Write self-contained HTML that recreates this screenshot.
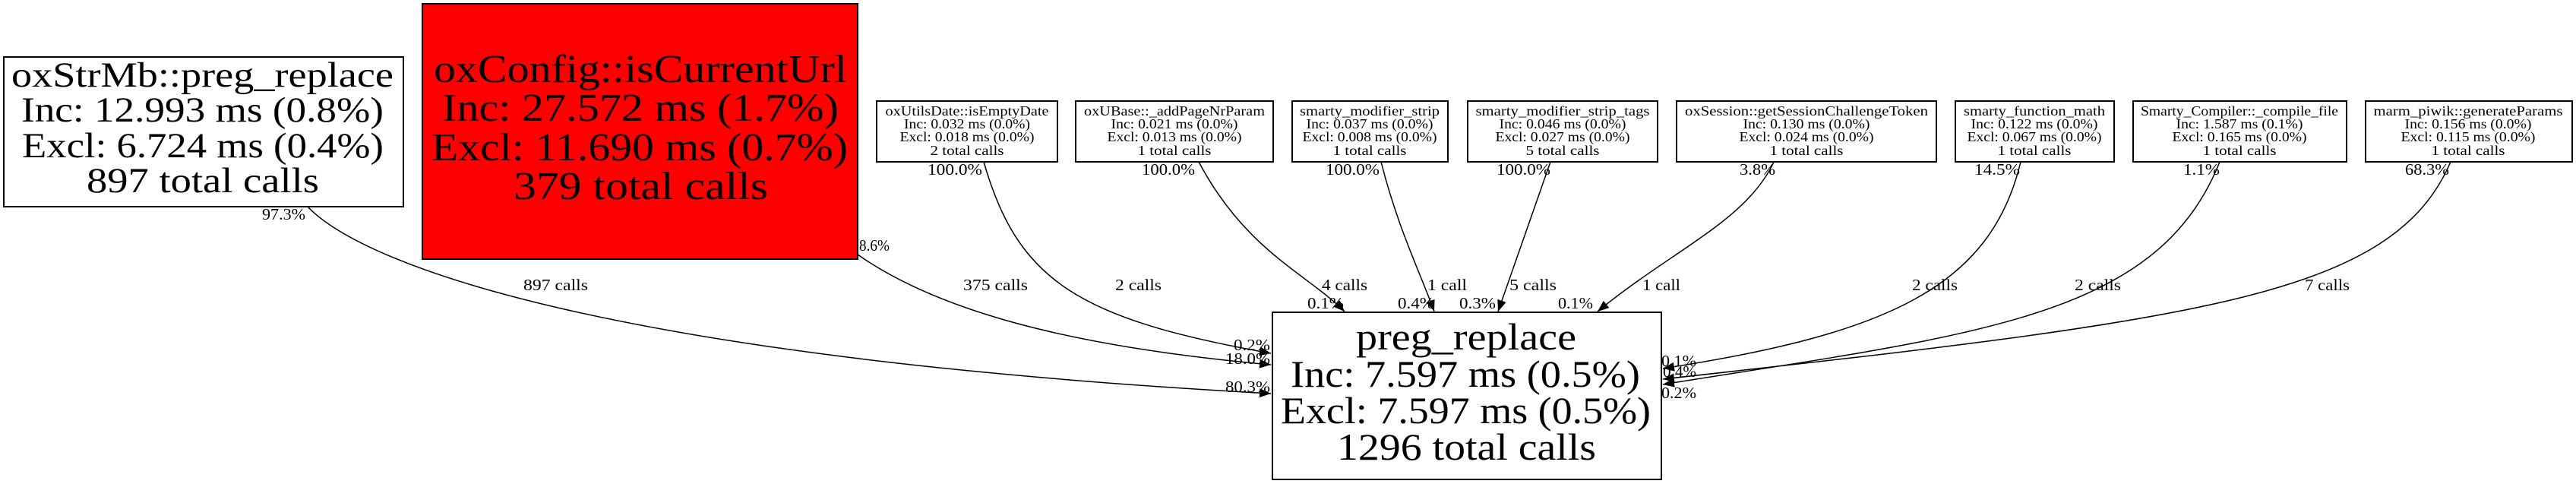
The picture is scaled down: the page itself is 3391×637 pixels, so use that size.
<!DOCTYPE html>
<html><head><meta charset="utf-8"><style>html,body{margin:0;padding:0;background:#fff}svg{display:block}text{font-family:"Liberation Serif",serif;fill:#000}</style></head>
<body>
<svg width="3391" height="637" viewBox="0 0 3391 637" xmlns="http://www.w3.org/2000/svg">
<defs>
<marker id="a" markerUnits="userSpaceOnUse" markerWidth="16" markerHeight="12" refX="15" refY="6" orient="auto"><path d="M0,0 L15,6 L0,12 Z" fill="#000"/></marker>
</defs>
<g fill="none" stroke="#000" stroke-width="1.5" marker-end="url(#a)">
<path d="M405 272 C480 350, 800 470, 1673 518"/>
<path d="M1129 335 C1250 420, 1450 460, 1673 480"/>
<path d="M1295 213 C1340 370, 1420 420, 1673 465"/>
<path d="M1578 213 C1640 330, 1720 360, 1770 410"/>
<path d="M1818 213 C1840 300, 1870 360, 1888 410"/>
<path d="M2041 213 L1972 410"/>
<path d="M2335 213 C2300 290, 2200 330, 2103 410"/>
<path d="M2660 213 C2620 380, 2480 440, 2189 485"/>
<path d="M2922 213 C2840 420, 2600 440, 2189 506"/>
<path d="M3226 213 C3150 390, 2900 420, 2189 499"/>
</g>
<g stroke="#000" stroke-width="2">
<rect x="5" y="75" width="526" height="197" fill="#fff"/>
<rect x="556" y="5" width="573" height="336" fill="#f00"/>
<rect x="1675" y="411" width="512" height="220" fill="#fff"/>
<rect x="1154" y="133" width="238" height="80" fill="#fff"/>
<rect x="1416" y="133" width="260" height="80" fill="#fff"/>
<rect x="1701" y="133" width="205" height="80" fill="#fff"/>
<rect x="1932" y="133" width="250" height="80" fill="#fff"/>
<rect x="2207" y="133" width="342" height="80" fill="#fff"/>
<rect x="2574" y="133" width="209" height="80" fill="#fff"/>
<rect x="2808" y="133" width="281" height="80" fill="#fff"/>
<rect x="3114" y="133" width="272" height="80" fill="#fff"/>
</g>
<g font-size="47">
<text x="15" y="114" textLength="503" lengthAdjust="spacingAndGlyphs">oxStrMb::preg_replace</text>
<text x="28" y="160" textLength="477" lengthAdjust="spacingAndGlyphs">Inc: 12.993 ms (0.8%)</text>
<text x="29" y="207" textLength="476" lengthAdjust="spacingAndGlyphs">Excl: 6.724 ms (0.4%)</text>
<text x="114" y="253" textLength="306" lengthAdjust="spacingAndGlyphs">897 total calls</text>
</g>
<g font-size="52">
<text x="571" y="108" textLength="544" lengthAdjust="spacingAndGlyphs">oxConfig::isCurrentUrl</text>
<text x="582" y="159" textLength="522" lengthAdjust="spacingAndGlyphs">Inc: 27.572 ms (1.7%)</text>
<text x="568" y="211" textLength="548" lengthAdjust="spacingAndGlyphs">Excl: 11.690 ms (0.7%)</text>
<text x="676" y="262" textLength="335" lengthAdjust="spacingAndGlyphs">379 total calls</text>
</g>
<g font-size="50">
<text x="1785" y="460" textLength="290" lengthAdjust="spacingAndGlyphs">preg_replace</text>
<text x="1699" y="509" textLength="460" lengthAdjust="spacingAndGlyphs">Inc: 7.597 ms (0.5%)</text>
<text x="1686" y="557" textLength="487" lengthAdjust="spacingAndGlyphs">Excl: 7.597 ms (0.5%)</text>
<text x="1760" y="605" textLength="341" lengthAdjust="spacingAndGlyphs">1296 total calls</text>
</g>
<g font-size="18" text-anchor="middle">
<text x="1273" y="152" textLength="215" lengthAdjust="spacingAndGlyphs">oxUtilsDate::isEmptyDate</text>
<text x="1273" y="169" textLength="166" lengthAdjust="spacingAndGlyphs">Inc: 0.032 ms (0.0%)</text>
<text x="1273" y="186" textLength="177" lengthAdjust="spacingAndGlyphs">Excl: 0.018 ms (0.0%)</text>
<text x="1273" y="204" textLength="97" lengthAdjust="spacingAndGlyphs">2 total calls</text>

<text x="1546" y="152" textLength="238" lengthAdjust="spacingAndGlyphs">oxUBase::_addPageNrParam</text>
<text x="1546" y="169" textLength="167" lengthAdjust="spacingAndGlyphs">Inc: 0.021 ms (0.0%)</text>
<text x="1546" y="186" textLength="177" lengthAdjust="spacingAndGlyphs">Excl: 0.013 ms (0.0%)</text>
<text x="1546" y="204" textLength="97" lengthAdjust="spacingAndGlyphs">1 total calls</text>

<text x="1803" y="152" textLength="184" lengthAdjust="spacingAndGlyphs">smarty_modifier_strip</text>
<text x="1803" y="169" textLength="167" lengthAdjust="spacingAndGlyphs">Inc: 0.037 ms (0.0%)</text>
<text x="1803" y="186" textLength="177" lengthAdjust="spacingAndGlyphs">Excl: 0.008 ms (0.0%)</text>
<text x="1803" y="204" textLength="97" lengthAdjust="spacingAndGlyphs">1 total calls</text>

<text x="2057" y="152" textLength="229" lengthAdjust="spacingAndGlyphs">smarty_modifier_strip_tags</text>
<text x="2057" y="169" textLength="167" lengthAdjust="spacingAndGlyphs">Inc: 0.046 ms (0.0%)</text>
<text x="2057" y="186" textLength="177" lengthAdjust="spacingAndGlyphs">Excl: 0.027 ms (0.0%)</text>
<text x="2057" y="204" textLength="97" lengthAdjust="spacingAndGlyphs">5 total calls</text>

<text x="2378" y="152" textLength="320" lengthAdjust="spacingAndGlyphs">oxSession::getSessionChallengeToken</text>
<text x="2378" y="169" textLength="167" lengthAdjust="spacingAndGlyphs">Inc: 0.130 ms (0.0%)</text>
<text x="2378" y="186" textLength="177" lengthAdjust="spacingAndGlyphs">Excl: 0.024 ms (0.0%)</text>
<text x="2378" y="204" textLength="97" lengthAdjust="spacingAndGlyphs">1 total calls</text>

<text x="2678" y="152" textLength="186" lengthAdjust="spacingAndGlyphs">smarty_function_math</text>
<text x="2678" y="169" textLength="167" lengthAdjust="spacingAndGlyphs">Inc: 0.122 ms (0.0%)</text>
<text x="2678" y="186" textLength="177" lengthAdjust="spacingAndGlyphs">Excl: 0.067 ms (0.0%)</text>
<text x="2678" y="204" textLength="97" lengthAdjust="spacingAndGlyphs">1 total calls</text>

<text x="2948" y="152" textLength="260" lengthAdjust="spacingAndGlyphs">Smarty_Compiler::_compile_file</text>
<text x="2948" y="169" textLength="167" lengthAdjust="spacingAndGlyphs">Inc: 1.587 ms (0.1%)</text>
<text x="2948" y="186" textLength="177" lengthAdjust="spacingAndGlyphs">Excl: 0.165 ms (0.0%)</text>
<text x="2948" y="204" textLength="97" lengthAdjust="spacingAndGlyphs">1 total calls</text>

<text x="3249" y="152" textLength="249" lengthAdjust="spacingAndGlyphs">marm_piwik::generateParams</text>
<text x="3249" y="169" textLength="167" lengthAdjust="spacingAndGlyphs">Inc: 0.156 ms (0.0%)</text>
<text x="3249" y="186" textLength="177" lengthAdjust="spacingAndGlyphs">Excl: 0.115 ms (0.0%)</text>
<text x="3249" y="204" textLength="97" lengthAdjust="spacingAndGlyphs">1 total calls</text>
</g>
<g font-size="21">
<text x="345" y="289" textLength="57" lengthAdjust="spacingAndGlyphs">97.3%</text>
<text x="689" y="382" textLength="85" lengthAdjust="spacingAndGlyphs">897 calls</text>
<text x="1613" y="516" textLength="59" lengthAdjust="spacingAndGlyphs">80.3%</text>
<text x="1131" y="330" textLength="40" lengthAdjust="spacingAndGlyphs">8.6%</text>
<text x="1268" y="382" textLength="85" lengthAdjust="spacingAndGlyphs">375 calls</text>
<text x="1613" y="479" textLength="59" lengthAdjust="spacingAndGlyphs">18.0%</text>
<text x="1221" y="230" textLength="72" lengthAdjust="spacingAndGlyphs">100.0%</text>
<text x="1468" y="382" textLength="61" lengthAdjust="spacingAndGlyphs">2 calls</text>
<text x="1624" y="461" textLength="48" lengthAdjust="spacingAndGlyphs">0.2%</text>
<text x="1503" y="230" textLength="70" lengthAdjust="spacingAndGlyphs">100.0%</text>
<text x="1740" y="382" textLength="60" lengthAdjust="spacingAndGlyphs">4 calls</text>
<text x="1721" y="406" textLength="48" lengthAdjust="spacingAndGlyphs">0.1%</text>
<text x="1745" y="230" textLength="71" lengthAdjust="spacingAndGlyphs">100.0%</text>
<text x="1879" y="382" textLength="52" lengthAdjust="spacingAndGlyphs">1 call</text>
<text x="1840" y="406" textLength="48" lengthAdjust="spacingAndGlyphs">0.4%</text>
<text x="1970" y="230" textLength="71" lengthAdjust="spacingAndGlyphs">100.0%</text>
<text x="1987" y="382" textLength="62" lengthAdjust="spacingAndGlyphs">5 calls</text>
<text x="1921" y="406" textLength="48" lengthAdjust="spacingAndGlyphs">0.3%</text>
<text x="2290" y="230" textLength="47" lengthAdjust="spacingAndGlyphs">3.8%</text>
<text x="2162" y="382" textLength="50" lengthAdjust="spacingAndGlyphs">1 call</text>
<text x="2051" y="406" textLength="46" lengthAdjust="spacingAndGlyphs">0.1%</text>
<text x="2599" y="230" textLength="60" lengthAdjust="spacingAndGlyphs">14.5%</text>
<text x="2517" y="382" textLength="60" lengthAdjust="spacingAndGlyphs">2 calls</text>
<text x="2874" y="230" textLength="48" lengthAdjust="spacingAndGlyphs">1.1%</text>
<text x="2731" y="382" textLength="61" lengthAdjust="spacingAndGlyphs">2 calls</text>
<text x="3166" y="230" textLength="58" lengthAdjust="spacingAndGlyphs">68.3%</text>
<text x="3034" y="382" textLength="59" lengthAdjust="spacingAndGlyphs">7 calls</text>
<text x="2187" y="482" textLength="46" lengthAdjust="spacingAndGlyphs">0.1%</text>
<text x="2189" y="496" textLength="44" lengthAdjust="spacingAndGlyphs">0.4%</text>
<text x="2187" y="524" textLength="46" lengthAdjust="spacingAndGlyphs">0.2%</text>
</g>
</svg>
</body></html>
